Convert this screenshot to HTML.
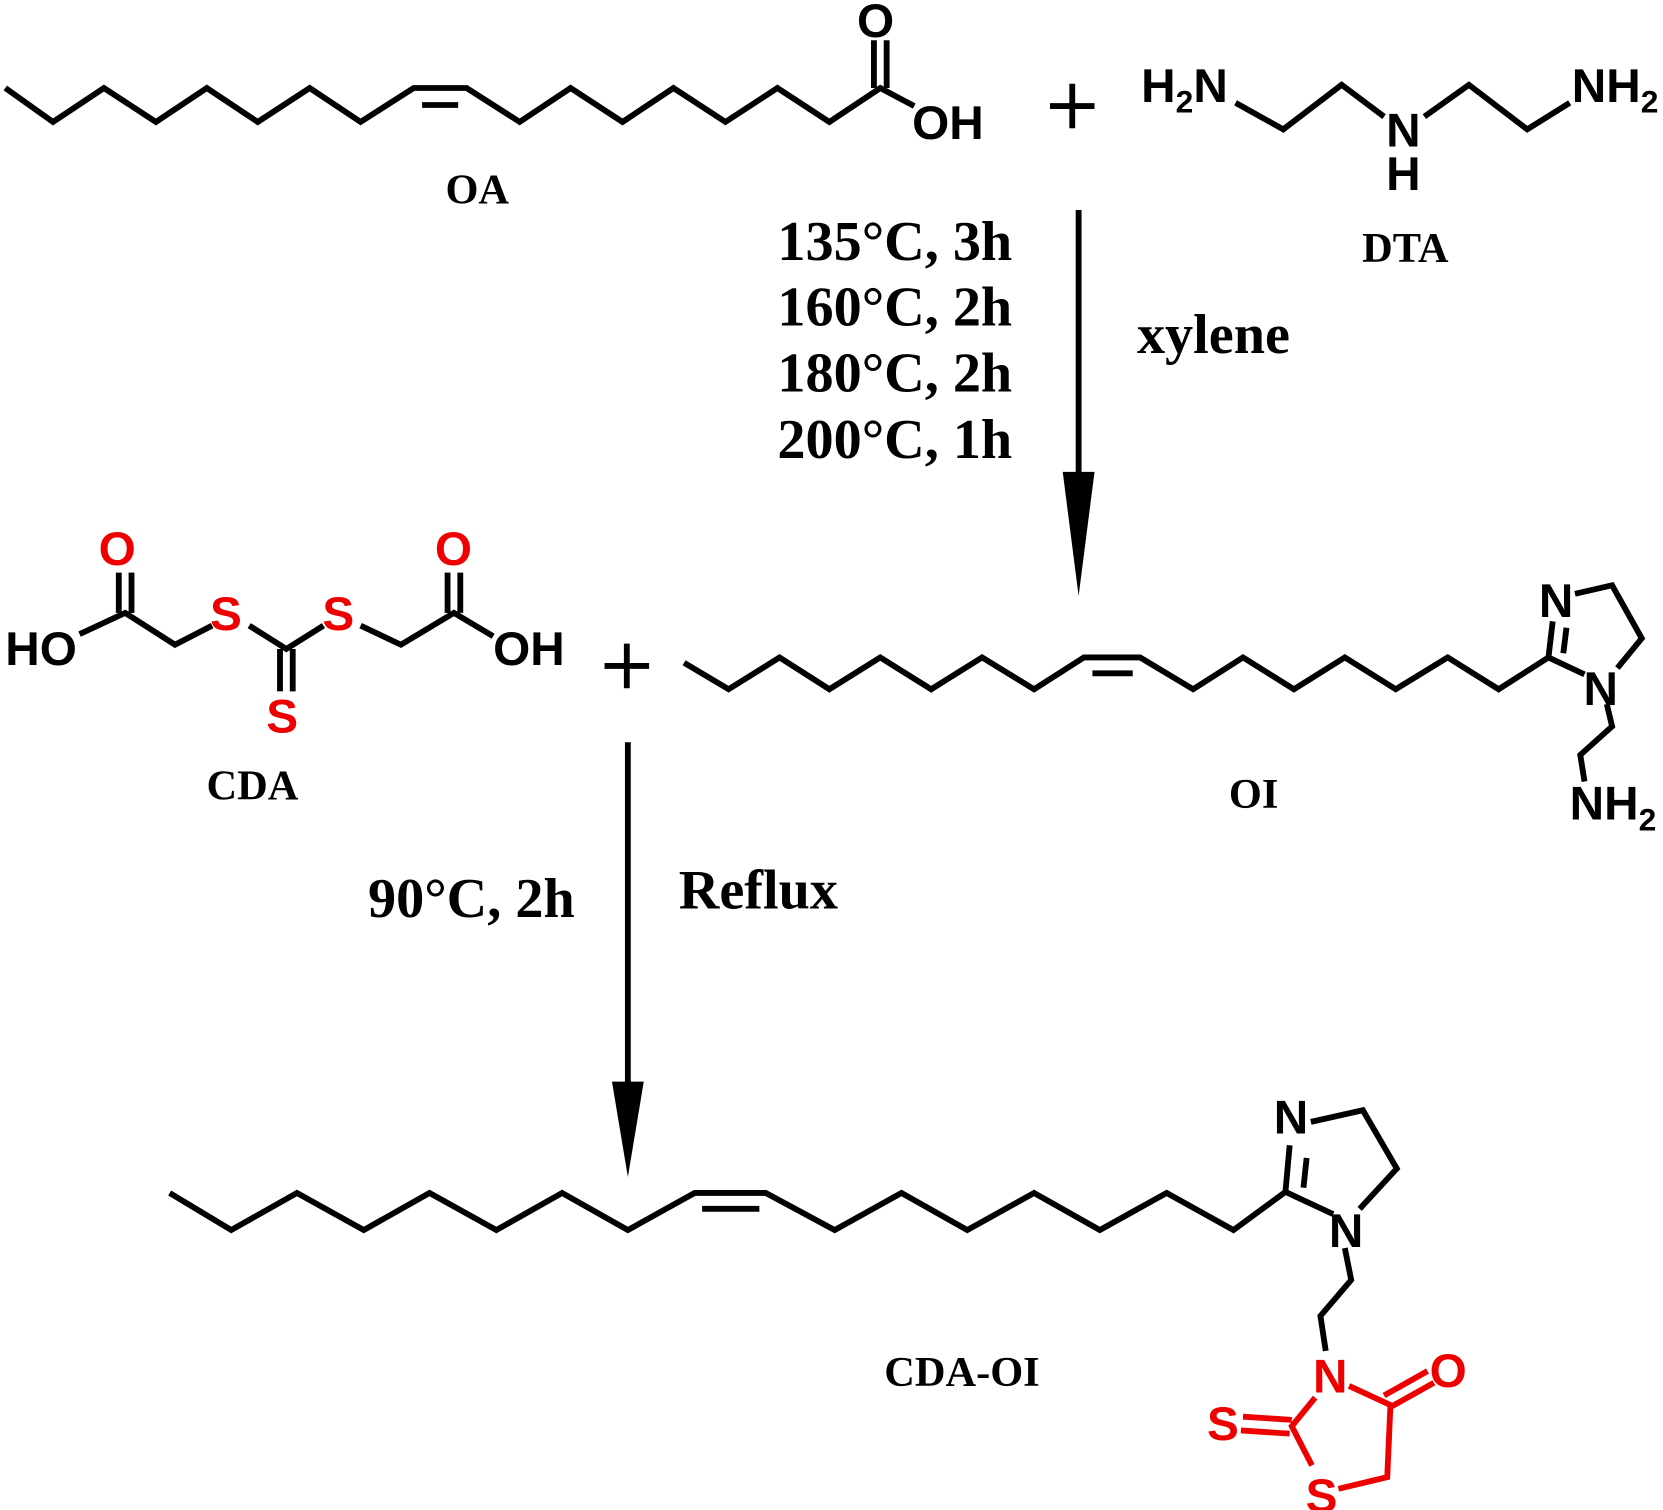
<!DOCTYPE html>
<html><head><meta charset="utf-8"><style>
html,body{margin:0;padding:0;background:#fff;}
svg{display:block;}
.a{font-family:"Liberation Sans",sans-serif;font-weight:bold;font-size:45px;}
.l{font-family:"Liberation Serif",serif;font-weight:bold;font-size:40px;}
.c{font-family:"Liberation Serif",serif;font-weight:bold;font-size:53px;}
.s{font-size:30px;}
</style></head><body>
<svg width="1663" height="1510" viewBox="0 0 1568 1424" preserveAspectRatio="none" xmlns="http://www.w3.org/2000/svg">
<g fill="none" stroke="#000" stroke-width="5.5" stroke-linejoin="miter">
<polyline points="5,83 50,115 98,83 147,115 195,83 243,115 292,83 340,115 390,83 440,83 490,115 538,83 587,115 635,83 684,115 733,83 782,115 830,83 862,100"/>
<line x1="398" y1="99" x2="432" y2="99"/>
<line x1="824" y1="83" x2="824" y2="38"/><line x1="836" y1="83" x2="836" y2="38"/>
<line x1="990" y1="100" x2="1032" y2="100"/><line x1="1011" y1="79" x2="1011" y2="121"/>
<polyline points="1165,97 1210,122 1265,80 1305,110"/>
<polyline points="1343,110 1385,80 1440,122 1480,97"/>
<line x1="1017" y1="198" x2="1017" y2="470"/>
<polyline points="75,598 118,578 165,608 200,590"/>
<polyline points="235,590 270,612 305,590"/>
<polyline points="340,590 378,608 428,578 465,600"/>
<line x1="112" y1="578" x2="112" y2="540"/><line x1="124" y1="578" x2="124" y2="540"/>
<line x1="422" y1="578" x2="422" y2="540"/><line x1="434" y1="578" x2="434" y2="540"/>
<line x1="264" y1="612" x2="264" y2="652"/><line x1="276" y1="612" x2="276" y2="652"/>
<line x1="570" y1="628" x2="612" y2="628"/><line x1="591" y1="607" x2="591" y2="649"/>
<polyline points="645,625 687,650 735,620 782,650 830,620 878,650 926,620 975,650 1022,620 1075,620 1125,650 1172,620 1220,650 1268,620 1316,650 1365,620 1413,650 1460,620 1494,636"/>
<line x1="1030" y1="635" x2="1068" y2="635"/>
<line x1="1460" y1="620" x2="1464" y2="586"/><line x1="1474" y1="616" x2="1477" y2="592"/>
<polyline points="1485,560 1520,552 1548,602 1525,630"/>
<polyline points="1515,664 1520,685 1490,712 1494,737"/>
<line x1="592" y1="700" x2="592" y2="1030"/>
<polyline points="160,1125 218,1160 280,1125 343,1160 405,1125 468,1160 530,1125 592,1160 655,1125 722,1125 787,1160 850,1125 912,1160 975,1125 1037,1160 1100,1125 1163,1160 1212,1124 1257,1145"/>
<line x1="662" y1="1140" x2="716" y2="1140"/>
<line x1="1212" y1="1124" x2="1216" y2="1080"/><line x1="1229" y1="1120" x2="1232" y2="1092"/>
<polyline points="1236,1058 1285,1047 1317,1102 1282,1140"/>
<polyline points="1268,1177 1274,1207 1245,1241 1250,1274"/>
</g>
<g fill="none" stroke="#e00" stroke-width="5.5">
<polyline points="1240,1318 1218,1345 1237,1382"/>
<polyline points="1272,1307 1311,1325 1308,1393 1262,1404"/>
<line x1="1311" y1="1327" x2="1352" y2="1304"/><line x1="1305" y1="1316" x2="1346" y2="1293"/>
<line x1="1218" y1="1339" x2="1172" y2="1336"/><line x1="1216" y1="1352" x2="1170" y2="1349"/>
</g>
<g fill="#000">
<polygon points="1002,445 1032,445 1017,562"/>
<polygon points="577,1020 607,1020 592,1110"/>
</g>
<g class="a" fill="#000">
<text x="808" y="35">O</text>
<text x="860" y="131">OH</text>
<text x="1076" y="96">H<tspan class="s" dy="10">2</tspan><tspan dy="-10">N</tspan></text>
<text x="1307" y="138">N</text><text x="1307" y="179">H</text>
<text x="1482" y="96">NH<tspan class="s" dy="10">2</tspan></text>
<text x="5" y="627">HO</text>
<text x="465" y="627">OH</text>
<text x="1451" y="582">N</text>
<text x="1493" y="665">N</text>
<text x="1480" y="773">NH<tspan class="s" dy="10">2</tspan></text>
<text x="1201" y="1069">N</text>
<text x="1253" y="1176">N</text>
</g>
<g class="a" fill="#e00">
<text x="93" y="533">O</text>
<text x="410" y="533">O</text>
<text x="198" y="594">S</text>
<text x="304" y="594">S</text>
<text x="251" y="691">S</text>
<text x="1238" y="1313">N</text>
<text x="1348" y="1308">O</text>
<text x="1138" y="1358">S</text>
<text x="1231" y="1426">S</text>
</g>
<g class="l" fill="#000" text-anchor="middle">
<text x="450" y="192">OA</text>
<text x="1325" y="247">DTA</text>
<text x="238" y="754">CDA</text>
<text x="1182" y="762">OI</text>
<text x="907" y="1307">CDA-OI</text>
</g>
<g class="c" fill="#000">
<text x="733" y="245">135°C, 3h</text>
<text x="733" y="307">160°C, 2h</text>
<text x="733" y="369">180°C, 2h</text>
<text x="733" y="432">200°C, 1h</text>
<text x="1072" y="333">xylene</text>
<text x="347" y="865">90°C, 2h</text>
<text x="640" y="857">Reflux</text>
</g>
</svg>
</body></html>
